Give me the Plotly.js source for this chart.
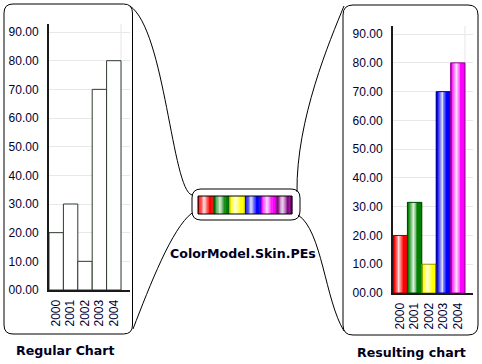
<!DOCTYPE html>
<html>
<head>
<meta charset="utf-8">
<script src="https://cdn.plot.ly/plotly-3.0.1.min.js"></script>
<style>html,body{margin:0;padding:0;background:#fff;}#chart{width:482px;height:364px;}</style>
</head>
<body>
<div id="chart"></div>
<script>
// ---- data ----
const years = ['2000', '2001', '2002', '2003', '2004'];
const regularValues = [20, 30, 10, 70, 80];
const resultingValues = [20, 31.5, 10, 70, 80];
const skinColors = ['#ff0000', '#008000', '#ffff00', '#0000ff', '#ff00ff', '#800080'];
const leftTitle = 'Regular Chart';
const rightTitle = 'Resulting chart';
const middleTitle = 'ColorModel.Skin.PEs';

// ---- helpers ----
const W = 482, H = 364;
const px = x => x / W;
const py = y => 1 - y / H;
function parse(hex) {
  return [1, 3, 5].map(i => parseInt(hex.substr(i, 2), 16));
}
function shade(hex, p) {
  let [r, g, b] = parse(hex);
  const h = Math.max(0, 1 - Math.abs(p - 0.4) / 0.32) * 0.88;
  r = r + (255 - r) * h; g = g + (255 - g) * h; b = b + (255 - b) * h;
  const d = p < 0.08 ? 0.8 : (p > 0.92 ? 0.82 : 1);
  return 'rgb(' + [r, g, b].map(v => Math.round(v * d)).join(',') + ')';
}
function darker(hex, f) {
  return 'rgb(' + parse(hex).map(v => Math.round(v * f)).join(',') + ')';
}
function rr(x0, y0, x1, y1, r) {
  const X = px, Y = py;
  return 'M' + X(x0 + r) + ',' + Y(y0) +
    ' L' + X(x1 - r) + ',' + Y(y0) +
    ' Q' + X(x1) + ',' + Y(y0) + ' ' + X(x1) + ',' + Y(y0 + r) +
    ' L' + X(x1) + ',' + Y(y1 - r) +
    ' Q' + X(x1) + ',' + Y(y1) + ' ' + X(x1 - r) + ',' + Y(y1) +
    ' L' + X(x0 + r) + ',' + Y(y1) +
    ' Q' + X(x0) + ',' + Y(y1) + ' ' + X(x0) + ',' + Y(y1 - r) +
    ' L' + X(x0) + ',' + Y(y0 + r) +
    ' Q' + X(x0) + ',' + Y(y0) + ' ' + X(x0 + r) + ',' + Y(y0) + ' Z';
}
function cubic(p) {
  return 'M' + px(p[0]) + ',' + py(p[1]) + ' C' + px(p[2]) + ',' + py(p[3]) + ' ' +
    px(p[4]) + ',' + py(p[5]) + ' ' + px(p[6]) + ',' + py(p[7]);
}

// ---- traces ----
const traces = [];
traces.push({
  type: 'bar', x: years, y: regularValues, xaxis: 'x', yaxis: 'y',
  width: 1, offset: -0.5,
  marker: {color: '#ffffff', line: {color: '#2f3a2f', width: 1}}
});
const N = 16;
const barColors = skinColors.slice(0, years.length);
for (let i = 0; i < N; i++) {
  const p = (i + 0.5) / N;
  traces.push({
    type: 'bar', x: years, y: resultingValues, xaxis: 'x2', yaxis: 'y2',
    width: 1 / N + 0.01, offset: -0.5 + i / N,
    marker: {color: barColors.map(c => shade(c, p)), line: {width: 0}}
  });
}
traces.push({
  type: 'bar', x: years, y: resultingValues, xaxis: 'x2', yaxis: 'y2',
  width: 1, offset: -0.5,
  marker: {color: 'rgba(0,0,0,0)', line: {color: barColors.map(c => darker(c, 0.6)), width: 1}}
});

// ---- shapes ----
const shapes = [];
const lineStyle = {color: '#000', width: 1};
shapes.push({type: 'path', xref: 'paper', yref: 'paper', path: rr(4, 4, 132.5, 334, 9), line: lineStyle});
shapes.push({type: 'path', xref: 'paper', yref: 'paper', path: rr(343, 5, 478, 335, 10), line: lineStyle});
shapes.push({type: 'path', xref: 'paper', yref: 'paper', path: rr(192, 189, 300, 220, 9), line: lineStyle});
// connecting curves
shapes.push({type: 'path', xref: 'paper', yref: 'paper', path: cubic([130, 6, 165, 30, 172, 190, 192, 195]), line: lineStyle});
shapes.push({type: 'path', xref: 'paper', yref: 'paper', path: cubic([192, 213, 172, 228, 150, 285, 133, 329]), line: lineStyle});
shapes.push({type: 'path', xref: 'paper', yref: 'paper', path: cubic([297, 192, 296, 120, 330, 40, 344, 6]), line: lineStyle});
shapes.push({type: 'path', xref: 'paper', yref: 'paper', path: cubic([298, 215, 322, 230, 325, 300, 344, 331]), line: lineStyle});
// swatch
const sx0 = 198, sx1 = 292, sy0 = 196, sy1 = 214;
const bw = (sx1 - sx0) / skinColors.length;
const M = 12;
skinColors.forEach((c, k) => {
  for (let i = 0; i < M; i++) {
    const p = (i + 0.5) / M;
    const a = sx0 + k * bw + i * bw / M;
    shapes.push({type: 'rect', xref: 'paper', yref: 'paper',
      x0: px(a), x1: px(a + bw / M + 0.3), y0: py(sy0), y1: py(sy1),
      fillcolor: shade(c, p), line: {width: 0}});
  }
});
shapes.push({type: 'rect', xref: 'paper', yref: 'paper', x0: px(sx0), x1: px(sx1), y0: py(sy0), y1: py(sy1),
  line: {color: '#000', width: 1}});
// light vertical gridline at right of last category
shapes.push({type: 'line', xref: 'x', yref: 'y domain', x0: 4.5, x1: 4.5, y0: 0, y1: 1, layer: 'below', line: {color: '#e6e6e6', width: 1}});
shapes.push({type: 'line', xref: 'x2', yref: 'y2 domain', x0: 4.5, x1: 4.5, y0: 0, y1: 1, layer: 'below', line: {color: '#e6e6e6', width: 1}});

// ---- layout ----
const tickFont = {family: 'Liberation Sans, Arial, sans-serif', size: 12, color: '#000033'};
const titleFont = {family: 'DejaVu Sans, Verdana, sans-serif', size: 12.6, color: '#000022', weight: 'bold'};
const xCommon = {type: 'category', showline: true, linewidth: 2, linecolor: '#1a1a1a', showgrid: false,
  zeroline: false, ticks: '', tickangle: -90, tickfont: tickFont, ticklabelstandoff: 3, fixedrange: true};
const yCommon = {range: [0, 92.8], dtick: 10, tick0: 0, tickformat: '05.2f', showline: true, linewidth: 2,
  linecolor: '#1a1a1a', showgrid: true, gridcolor: '#e8e8e8', gridwidth: 1, zeroline: false, ticks: '',
  tickfont: tickFont, ticklabelstandoff: 6, fixedrange: true};

const layout = {
  width: W, height: H, margin: {l: 0, r: 0, t: 0, b: 0},
  paper_bgcolor: '#ffffff', plot_bgcolor: 'rgba(0,0,0,0)',
  showlegend: false, barmode: 'overlay', bargap: 0,
  xaxis: Object.assign({}, xCommon, {domain: [px(49), px(130)], range: [-0.5, 5.125], anchor: 'y'}),
  yaxis: Object.assign({}, yCommon, {domain: [py(290), py(24)], anchor: 'x'}),
  xaxis2: Object.assign({}, xCommon, {domain: [px(393), px(473)], range: [-0.5, 5.056], anchor: 'y2'}),
  yaxis2: Object.assign({}, yCommon, {domain: [py(293), py(26)], anchor: 'x2'}),
  shapes: shapes,
  annotations: [
    {xref: 'paper', yref: 'paper', x: px(65), y: py(350), text: leftTitle, showarrow: false, xanchor: 'center', yanchor: 'middle', font: titleFont},
    {xref: 'paper', yref: 'paper', x: px(411), y: py(352), text: rightTitle, showarrow: false, xanchor: 'center', yanchor: 'middle', font: titleFont},
    {xref: 'paper', yref: 'paper', x: px(243), y: py(253), text: middleTitle, showarrow: false, xanchor: 'center', yanchor: 'middle', font: titleFont}
  ]
};

Plotly.newPlot('chart', traces, layout, {staticPlot: true, displayModeBar: false});
</script>
</body>
</html>
